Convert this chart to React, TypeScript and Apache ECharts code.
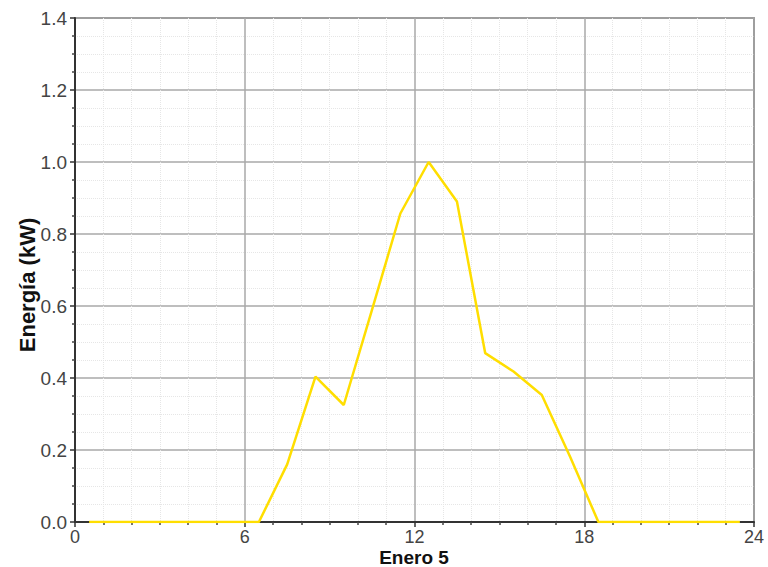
import React, { useEffect, useRef } from "react";
import * as echarts from "echarts";

const hours: number[] = [0.5, 1.5, 2.5, 3.5, 4.5, 5.5, 6.5, 7.5, 8.5, 9.5, 10.5, 11.5, 12.5, 13.5, 14.5, 15.5, 16.5, 17.5, 18.5, 19.5, 20.5, 21.5, 22.5, 23.5];
const energy: number[] = [0, 0, 0, 0, 0, 0, 0, 0.16, 0.404, 0.325, 0.59, 0.857, 1.0, 0.89, 0.469, 0.418, 0.353, 0.181, 0, 0, 0, 0, 0, 0];
const xAxisTitle = "Enero 5";
const yAxisTitle = "Energía (kW)";

export default function App() {
  const ref = useRef<HTMLDivElement>(null);
  useEffect(() => {
    if (!ref.current) return;
    const chart = echarts.init(ref.current, undefined, { renderer: "svg" });
    const font = "'Liberation Sans', Arial, sans-serif";
    chart.setOption({
      animation: false,
      backgroundColor: "#ffffff",
      grid: {
        left: 75,
        right: 14,
        top: 18,
        bottom: 45,
        containLabel: false,
        outerBoundsMode: "none",
        show: true,
        borderColor: "#555555",
        borderWidth: 1.5,
        backgroundColor: "#ffffff",
      },
      graphic: [
        {
          type: "text",
          x: 27,
          y: 285,
          rotation: Math.PI / 2,
          style: {
            text: yAxisTitle,
            fontFamily: font,
            fontSize: 22,
            fontWeight: "bold",
            fill: "#111",
            align: "center",
            verticalAlign: "middle",
          },
        },
        {
          type: "text",
          x: 414,
          y: 557.5,
          style: {
            text: xAxisTitle,
            fontFamily: font,
            fontSize: 19,
            fontWeight: "bold",
            fill: "#111",
            align: "center",
            verticalAlign: "middle",
          },
        },
      ],
      xAxis: {
        type: "value",
        min: 0,
        max: 24,
        interval: 6,
        axisLine: { show: true, onZero: false, lineStyle: { color: "#333", width: 2 } },
        axisTick: { show: true, length: 5, lineStyle: { color: "#333", width: 1.5 } },
        minorTick: { show: true, splitNumber: 6, length: 3, lineStyle: { color: "#444", width: 1.5 } },
        axisLabel: { fontFamily: font, fontSize: 18, color: "#444", margin: 6 },
        splitLine: { show: true, lineStyle: { color: "#a8a8a8", width: 1.5 } },
        minorSplitLine: { show: true, lineStyle: { color: "#e6e6e6", width: 1, type: "dotted" } },
      },
      yAxis: {
        type: "value",
        min: 0,
        max: 1.4,
        interval: 0.2,
        axisLine: { show: true, lineStyle: { color: "#333", width: 2 } },
        axisTick: { show: true, length: 5, lineStyle: { color: "#333", width: 1.5 } },
        minorTick: { show: true, splitNumber: 4, length: 3, lineStyle: { color: "#444", width: 1.5 } },
        axisLabel: {
          fontFamily: font,
          fontSize: 19,
          color: "#444",
          margin: 8,
          formatter: (v: number) => v.toFixed(1),
        },
        splitLine: { show: true, lineStyle: { color: "#a8a8a8", width: 1.5 } },
        minorSplitLine: { show: true, lineStyle: { color: "#e6e6e6", width: 1, type: "dotted" } },
      },
      series: [
        {
          type: "line",
          data: hours.map((h, i) => [h, energy[i]]),
          showSymbol: false,
          lineStyle: { color: "#ffde00", width: 2.5 },
          itemStyle: { color: "#ffde00" },
        },
      ],
    });
    return () => chart.dispose();
  }, []);
  return <div ref={ref} style={{ position: "fixed", left: 0, top: 0, width: 768, height: 567 }} />;
}
